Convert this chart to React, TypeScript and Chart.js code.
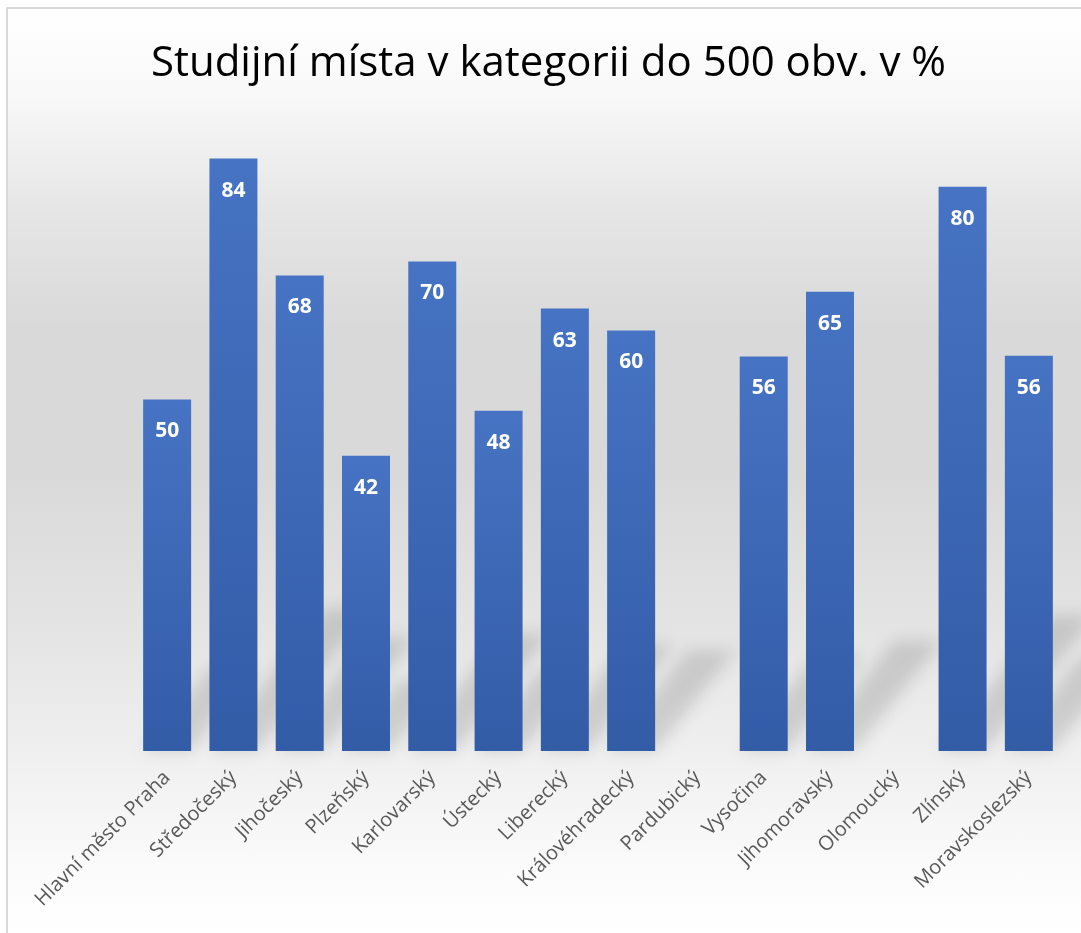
import React, { useEffect, useRef } from "react";
import { Chart, registerables } from "chart.js";

Chart.register(...registerables);

const TITLE = "Studijní místa v kategorii do 500 obv. v %";

const categories: string[] = [
  "Hlavní město Praha",
  "Středočeský",
  "Jihočeský",
  "Plzeňský",
  "Karlovarský",
  "Ústecký",
  "Liberecký",
  "Královéhradecký",
  "Pardubický",
  "Vysočina",
  "Jihomoravský",
  "Olomoucký",
  "Zlínský",
  "Moravskoslezský",
];

const values: (number | null)[] = [
  49.9, 84.1, 67.5, 41.9, 69.5, 48.3, 62.8, 59.7, null, 56.0, 65.2, null, 80.1, 56.1,
];

const Y_MAX = 90;

const shadowPlugin = {
  id: "barShadow",
  beforeDatasetsDraw(chart: any) {
    const ctx = chart.ctx;
    const meta = chart.getDatasetMeta(0);
    ctx.save();
    ctx.filter = "blur(8px)";
    ctx.fillStyle = "rgba(0,0,0,0.13)";
    meta.data.forEach((bar: any, i: number) => {
      if (values[i] == null) return;
      const { x, y, base, width } = bar.getProps(["x", "y", "base", "width"], true);
      if (![x, y, base, width].every((n) => Number.isFinite(n))) return;
      const h = base - y;
      const dy = h * 0.24;
      const dx = dy * 0.8;
      ctx.beginPath();
      ctx.moveTo(x - width / 2, base);
      ctx.lineTo(x + width / 2, base);
      ctx.lineTo(x + width / 2 + dx, base - dy);
      ctx.lineTo(x - width / 2 + dx, base - dy);
      ctx.closePath();
      ctx.fill();
    });
    ctx.restore();
  },
};

const labelPlugin = {
  id: "barLabels",
  afterDatasetsDraw(chart: any) {
    const ctx = chart.ctx;
    const meta = chart.getDatasetMeta(0);
    ctx.save();
    ctx.fillStyle = "#ffffff";
    ctx.font = "bold 21px 'Open Sans'";
    ctx.textAlign = "center";
    ctx.textBaseline = "middle";
    meta.data.forEach((bar: any, i: number) => {
      const v = values[i];
      if (v == null) return;
      const { x, y } = bar.getProps(["x", "y"], true);
      ctx.fillText(String(Math.round(v)), x, y + 32);
    });
    ctx.restore();
  },
};

export default function App() {
  const ref = useRef<HTMLCanvasElement | null>(null);

  useEffect(() => {
    if (!ref.current) return;
    const chart = new Chart(ref.current, {
      type: "bar",
      data: {
        labels: categories,
        datasets: [
          {
            data: values as any,
            yAxisID: "y",
            backgroundColor: (c: any) => {
              const ch = c.chart;
              const ys = ch.scales?.y;
              const v = c.raw;
              if (!ys || v == null) return "#4472c4";
              const top = ys.getPixelForValue(v);
              const bottom = ys.getPixelForValue(0);
              if (!Number.isFinite(top) || !Number.isFinite(bottom) || top === bottom) return "#4472c4";
              const g = ch.ctx.createLinearGradient(0, top, 0, bottom);
              g.addColorStop(0, "#4673c3");
              g.addColorStop(1, "#335ca7");
              return g;
            },
            borderWidth: 0,
            barPercentage: 0.724,
            categoryPercentage: 1,
          },
        ],
      },
      options: {
        responsive: false,
        animation: false,
        layout: { padding: { left: 16, right: 0, top: 0, bottom: 0 } },
        plugins: {
          legend: { display: false },
          tooltip: { enabled: false },
          title: {
            display: true,
            text: TITLE,
            color: "#000000",
            font: { family: "'Open Sans'", size: 42, weight: "normal", lineHeight: 1.2 },
            padding: { top: 39, bottom: 27.6 },
          },
        },
        scales: {
          x: {
            grid: { display: false, drawTicks: false },
            border: { display: false },
            ticks: {
              color: "#595959",
              font: { family: "'Open Sans'", size: 20 },
              minRotation: 45,
              maxRotation: 45,
              padding: 15,
              autoSkip: false,
            },
            afterFit: (scale: any) => {
              scale.height = 182;
            },
          },
          y: {
            display: true,
            position: "left",
            min: 0,
            max: Y_MAX,
            grid: { display: false, drawTicks: false },
            border: { display: false },
            ticks: { display: false },
            afterFit: (scale: any) => {
              scale.width = 118;
            },
          },
          yRight: {
            type: "linear",
            display: true,
            position: "right",
            grid: { display: false, drawTicks: false },
            border: { display: false },
            ticks: { display: false },
            afterFit: (scale: any) => {
              scale.width = 19;
            },
          },
        },
      },
      plugins: [shadowPlugin, labelPlugin],
    });
    return () => chart.destroy();
  }, []);

  return (
    <div style={{ position: "absolute", left: 0, top: 0, width: 1081, height: 933, overflow: "hidden", background: "#ffffff" }}>
      <div
        style={{
          position: "absolute",
          left: 6,
          top: 7,
          width: 1075,
          height: 926,
          borderLeft: "2px solid #d9d9d9",
          borderTop: "2px solid #d9d9d9",
          background:
            "linear-gradient(to bottom, #ffffff 0px, #f8f8f8 90px, #e6e6e6 200px, #d9d9d9 320px, #d9d9d9 460px, #e4e4e4 620px, #efefef 740px, #fbfbfb 860px, #ffffff 926px)",
        }}
      />
      <canvas ref={ref} width={1081} height={933} style={{ position: "absolute", left: 0, top: 0, width: 1081, height: 933 }} />
    </div>
  );
}
